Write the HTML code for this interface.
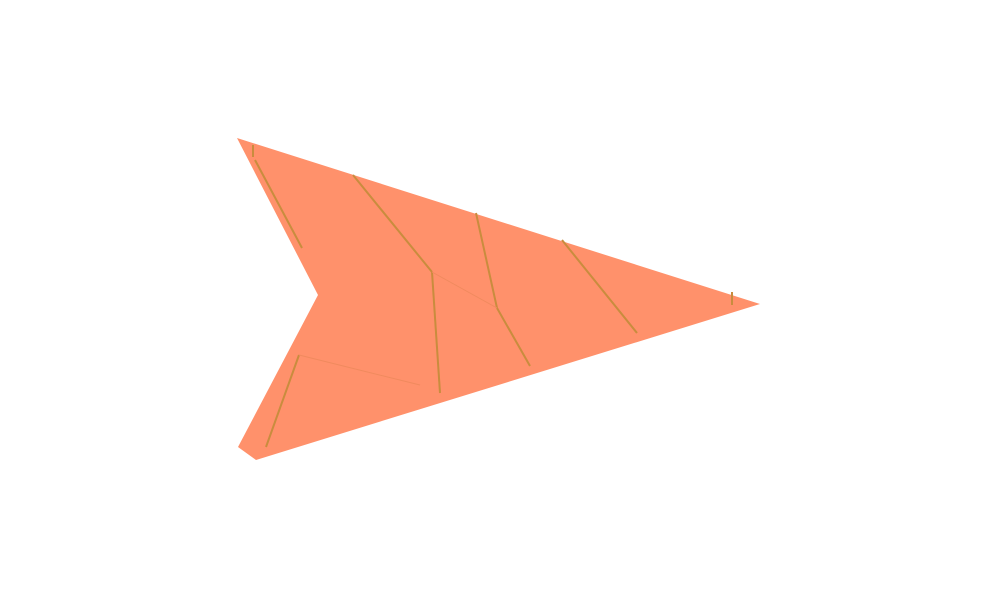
<!DOCTYPE html>
<html><head><meta charset="utf-8"><style>
html,body{margin:0;padding:0;background:#fff;width:1000px;height:600px;overflow:hidden}
</style></head><body>
<svg id="chart" width="1000" height="600" viewBox="0 0 1000 600" xmlns="http://www.w3.org/2000/svg">
<g id="plot"></g>
</svg>
<script>
const shapeX = [237, 760, 256, 238, 318];
const shapeY = [138, 304, 460, 447, 295];
const edgeX1 = [253, 255, 353, 476, 497, 432, 562, 299, 732];
const edgeY1 = [145, 160, 175, 213, 308, 272, 240, 355, 292];
const edgeX2 = [253, 302, 432, 497, 530, 440, 637, 266, 732];
const edgeY2 = [157, 248, 272, 308, 366, 393, 333, 447, 305];
const faintX1 = [432, 299];
const faintY1 = [272, 355];
const faintX2 = [497, 420];
const faintY2 = [308, 385];
const NS = 'http://www.w3.org/2000/svg';
const g = document.getElementById('plot');
const poly = document.createElementNS(NS, 'polygon');
poly.setAttribute('points', shapeX.map((x, i) => x + ',' + shapeY[i]).join(' '));
poly.setAttribute('fill', '#ff916b');


g.appendChild(poly);
function addLine(x1, y1, x2, y2, color, w, name) {
  const l = document.createElementNS(NS, 'line');
  l.setAttribute('x1', x1); l.setAttribute('y1', y1);
  l.setAttribute('x2', x2); l.setAttribute('y2', y2);
  l.setAttribute('stroke', color); l.setAttribute('stroke-width', w);
  
  
  g.appendChild(l);
}
edgeX1.forEach((x, i) => addLine(x, edgeY1[i], edgeX2[i], edgeY2[i], '#c98c3e', 2, 'contour-line'));
faintX1.forEach((x, i) => addLine(x, faintY1[i], faintX2[i], faintY2[i], '#f08a5e', 1, 'faint-edge'));
</script>
</body></html>
